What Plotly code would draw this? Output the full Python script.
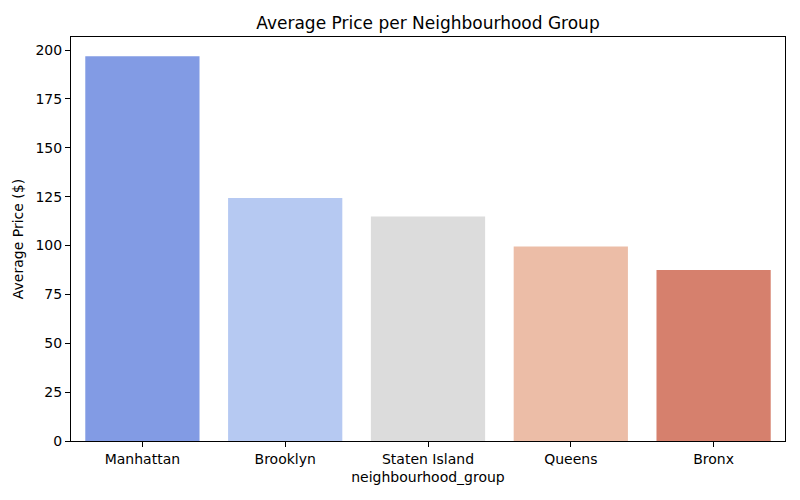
import plotly.graph_objects as go

categories = ["Manhattan", "Brooklyn", "Staten Island", "Queens", "Bronx"]
avg_price = [196.88, 124.38, 114.81, 99.52, 87.50]
bar_colors = ["#829be4", "#b6c9f2", "#dcdcdc", "#ecbda7", "#d6806d"]
y_ticks = [0, 25, 50, 75, 100, 125, 150, 175, 200]

fig = go.Figure(go.Bar(x=categories, y=avg_price, marker=dict(color=bar_colors, line=dict(width=0)), width=0.8))

font = "DejaVu Sans, sans-serif"
fig.update_layout(
    width=800, height=500,
    margin=dict(l=63, r=23, t=29, b=67, autoexpand=False),
    plot_bgcolor="white", paper_bgcolor="white",
    font=dict(family=font, size=14, color="black"),
    title=dict(text="Average Price per Neighbourhood Group", x=0.5, xref="paper", xanchor="center",
               y=1, yref="container", yanchor="top", pad=dict(t=9), font=dict(size=17)),
    showlegend=False,
    bargap=0.2,
)
fig.update_xaxes(range=[-0.5, 4.5], showline=True, linecolor="black", linewidth=1, mirror=True,
                 ticks="outside", ticklen=5, tickcolor="black", showgrid=False, automargin=False,
                 title=dict(text="neighbourhood_group", standoff=6, font=dict(size=14)))
fig.update_yaxes(range=[0, 206.7], tickvals=y_ticks, showline=True, linecolor="black", linewidth=1, mirror=True,
                 ticks="outside", ticklen=5, tickcolor="black", showgrid=False, zeroline=False, automargin=False,
                 title=dict(text="Average Price ($)", standoff=8, font=dict(size=14)))

fig.write_html("out.html")
